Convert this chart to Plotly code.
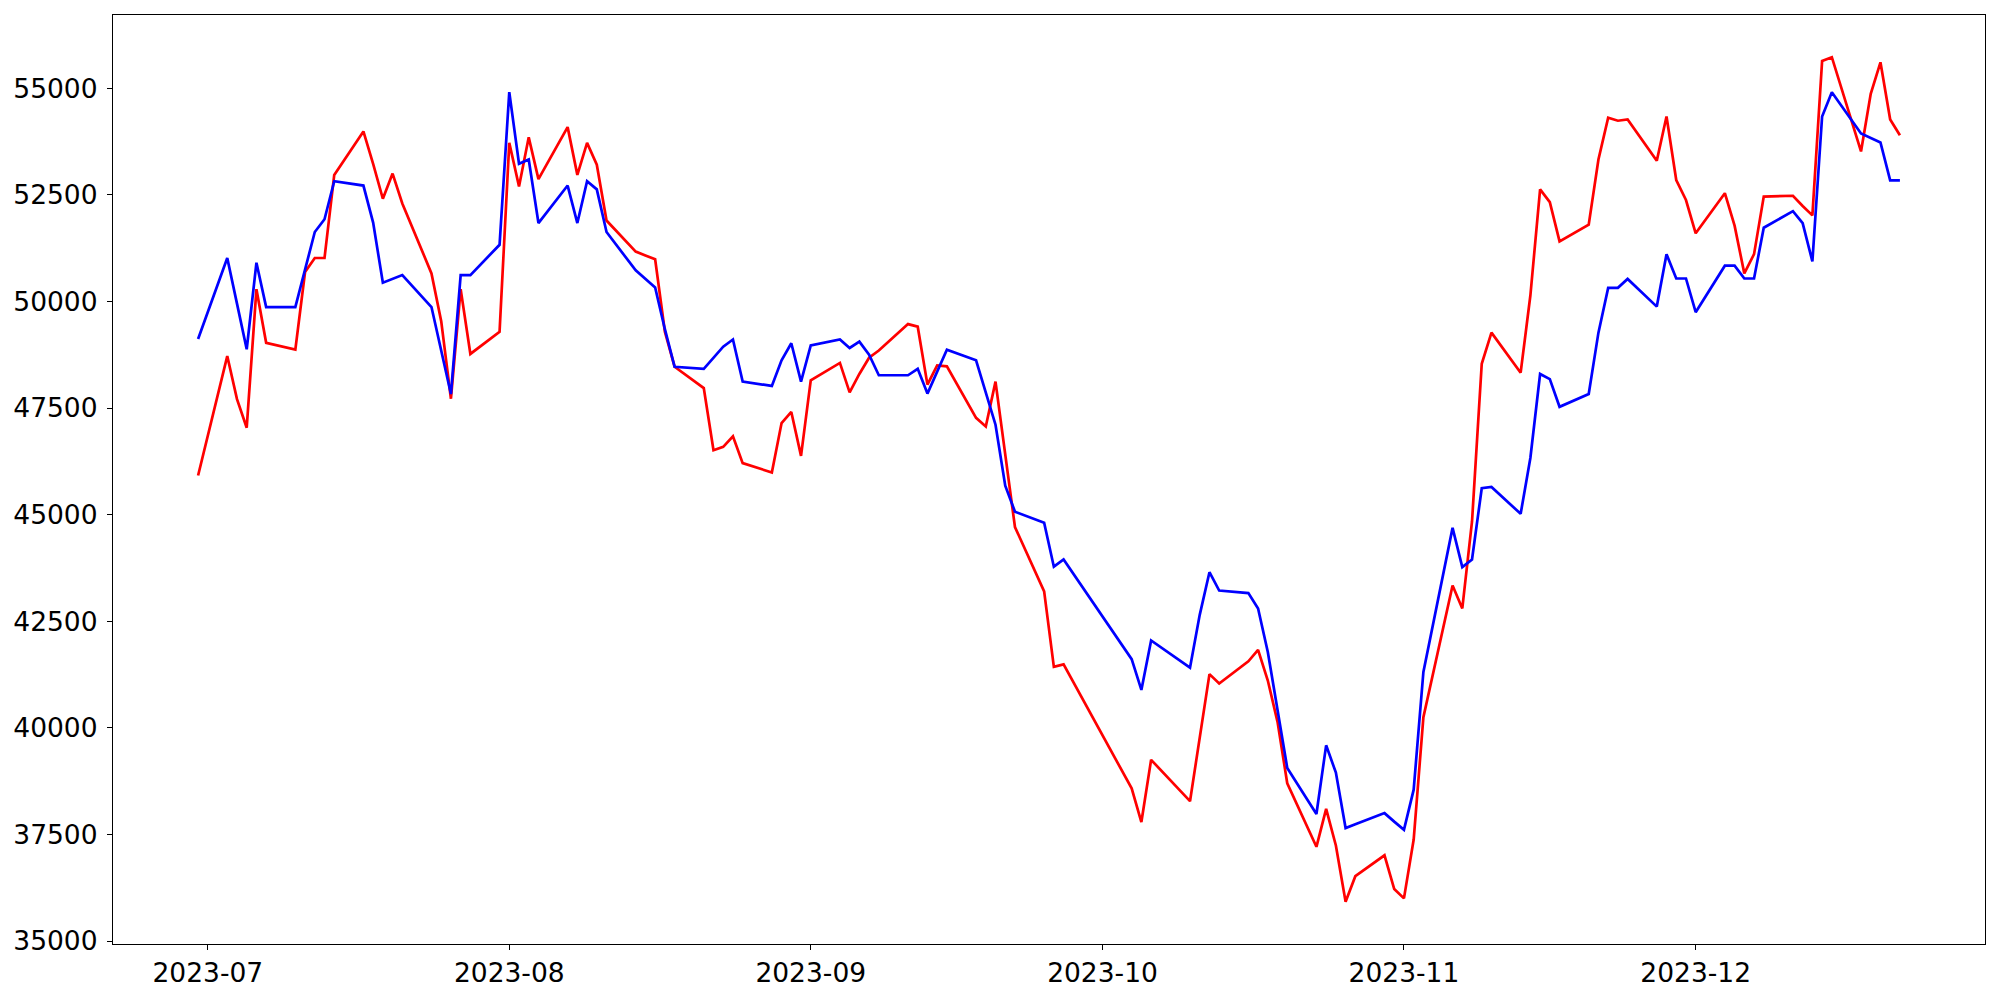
import plotly.graph_objects as go

# trading days
dates = [
    "2023-06-30", "2023-07-03", "2023-07-04", "2023-07-05", "2023-07-06", "2023-07-07",
    "2023-07-10", "2023-07-11", "2023-07-12", "2023-07-13", "2023-07-14",
    "2023-07-17", "2023-07-18", "2023-07-19", "2023-07-20", "2023-07-21",
    "2023-07-24", "2023-07-25", "2023-07-26", "2023-07-27", "2023-07-28",
    "2023-07-31", "2023-08-01", "2023-08-02", "2023-08-03", "2023-08-04",
    "2023-08-07", "2023-08-08", "2023-08-09", "2023-08-10", "2023-08-11",
    "2023-08-14", "2023-08-15", "2023-08-16", "2023-08-17", "2023-08-18",
    "2023-08-21", "2023-08-22", "2023-08-23", "2023-08-24", "2023-08-25",
    "2023-08-28", "2023-08-29", "2023-08-30", "2023-08-31", "2023-09-01",
    "2023-09-04", "2023-09-05", "2023-09-06", "2023-09-07", "2023-09-08",
    "2023-09-11", "2023-09-12", "2023-09-13", "2023-09-14", "2023-09-15",
    "2023-09-18", "2023-09-19", "2023-09-20", "2023-09-21", "2023-09-22",
    "2023-09-25", "2023-09-26", "2023-09-27",
    "2023-10-04", "2023-10-05", "2023-10-06",
    "2023-10-10", "2023-10-11", "2023-10-12", "2023-10-13",
    "2023-10-16", "2023-10-17", "2023-10-18", "2023-10-19", "2023-10-20",
    "2023-10-23", "2023-10-24", "2023-10-25", "2023-10-26", "2023-10-27",
    "2023-10-30", "2023-10-31", "2023-11-01", "2023-11-02", "2023-11-03",
    "2023-11-06", "2023-11-07", "2023-11-08", "2023-11-09", "2023-11-10",
    "2023-11-13", "2023-11-14", "2023-11-15", "2023-11-16", "2023-11-17",
    "2023-11-20", "2023-11-21", "2023-11-22", "2023-11-23", "2023-11-24",
    "2023-11-27", "2023-11-28", "2023-11-29", "2023-11-30", "2023-12-01",
    "2023-12-04", "2023-12-05", "2023-12-06", "2023-12-07", "2023-12-08",
    "2023-12-11", "2023-12-12", "2023-12-13", "2023-12-14", "2023-12-15",
    "2023-12-18", "2023-12-19", "2023-12-20", "2023-12-21", "2023-12-22",
]

red_values = [
    45920, 48720, 47710, 47040, 50290, 49030,
    48870, 50690, 51020, 51020, 52970,
    53990, 53230, 52410, 53000, 52300,
    50660, 49540, 47720, 50290, 48770,
    49290, 53720, 52700, 53850, 52870,
    54090, 52970, 53720, 53210, 51900,
    51170, 51080, 50990, 49290, 48470,
    47970, 46510, 46590, 46840, 46210,
    45990, 47150, 47410, 46380, 48150,
    48560, 47870, 48300, 48680, 48850,
    49470, 49410, 48050, 48500, 48480,
    47270, 47070, 48120, 46410, 44710,
    43200, 41430, 41490,
    38580, 37790, 39250,
    38280, 39770, 41260, 41040,
    41560, 41830, 41110, 40140, 38700,
    37210, 38100, 37240, 35920, 36520,
    37010, 36220, 36000, 37380, 40250,
    43340, 42800, 44840, 48540, 49270,
    48330, 50140, 52630, 52330, 51410,
    51800, 53330, 54310, 54240, 54270,
    53300, 54340, 52850, 52380, 51600,
    52540, 51780, 50660, 51110, 52460,
    52480, 52240, 52020, 55640, 55730,
    53520, 54870, 55610, 54270, 53900,
]

blue_values = [
    49120, 51020, 49950, 48880, 50910, 49870,
    49870, 50750, 51630, 51930, 52820,
    52720, 51850, 50440, 50530, 50620,
    49870, 48860, 47830, 50620, 50620,
    51330, 54910, 53230, 53330, 51840,
    52720, 51840, 52820, 52630, 51630,
    50730, 50540, 50330, 49350, 48470,
    48420, 48690, 48940, 49110, 48120,
    48020, 48620, 49020, 48120, 48970,
    49110, 48910, 49060, 48750, 48270,
    48270, 48420, 47840, 48350, 48870,
    48620, 47870, 47110, 45680, 45070,
    44810, 43780, 43950,
    41610, 40890, 42050,
    41410, 42650, 43650, 43220,
    43160, 42800, 41780, 40440, 39060,
    37980, 39590, 38950, 37650, 37740,
    38000, 37800, 37610, 38550, 41310,
    44690, 43770, 43950, 45620, 45650,
    45020, 46330, 48300, 48180, 47530,
    47830, 49270, 50320, 50320, 50530,
    49880, 51110, 50540, 50540, 49750,
    50840, 50840, 50540, 50540, 51730,
    52120, 51840, 50940, 54340, 54910,
    53940, 53840, 53730, 52840, 52840,
]

y_ticks = [35000, 37500, 40000, 42500, 45000, 47500, 50000, 52500, 55000]

fig = go.Figure()

fig.add_trace(go.Scatter(
    x=dates,
    y=red_values,
    mode="lines",
    line=dict(color="#ff0000", width=2.7),
    name="red",
))
fig.add_trace(go.Scatter(
    x=dates,
    y=blue_values,
    mode="lines",
    line=dict(color="#0000ff", width=2.7),
    name="blue",
))

axis_style = dict(
    showgrid=False,
    zeroline=False,
    showline=True,
    mirror=True,
    linecolor="black",
    linewidth=1.2,
    ticks="outside",
    ticklen=5,
    tickwidth=1.2,
    tickcolor="black",
    tickfont=dict(family="DejaVu Sans", size=26.5, color="black"),
)

fig.update_layout(
    width=2000,
    height=1000,
    margin=dict(l=113, r=15, t=15, b=54),
    paper_bgcolor="white",
    plot_bgcolor="white",
    showlegend=False,
    xaxis=dict(
        type="date",
        range=["2023-06-21 06:00", "2023-12-30 18:00"],
        tick0="2023-07-01",
        dtick="M1",
        tickformat="%Y-%m",
        **axis_style,
    ),
    yaxis=dict(
        range=[34930, 56720],
        tickvals=y_ticks,
        tickformat="d",
        ticklabelstandoff=4,
        **axis_style,
    ),
)

# drop the browser's default body margin so the figure sits at the page origin
fig.write_html(
    "out.html",
    config={"displayModeBar": False},
    post_script="document.body.style.margin='0';",
)
